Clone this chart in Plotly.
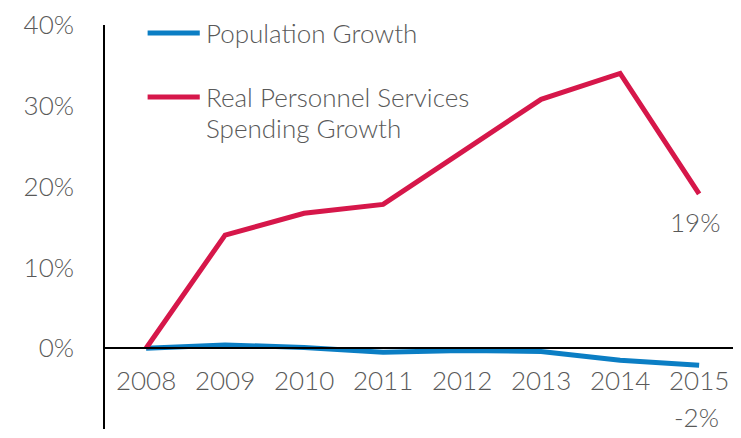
import plotly.graph_objects as go

years = [2008, 2009, 2010, 2011, 2012, 2013, 2014, 2015]
population_growth = [0.0, 0.4, 0.1, -0.5, -0.3, -0.4, -1.5, -2.1]
personnel_growth = [0.0, 14.0, 16.7, 17.8, 24.3, 30.8, 34.0, 19.1]
y_ticks = [-10, 0, 10, 20, 30, 40]
y_tick_labels = ["-10%", "0%", "10%", "20%", "30%", "40%"]
legend_lines = [["Population Growth"], ["Real Personnel Services", "Spending Growth"]]

BLUE = "#0B7EC4"
RED = "#D6174A"
GRAY = "#595959"
FONT = "Lato"
FS = 26
FW = 300

fig = go.Figure()
fig.add_trace(go.Scatter(x=years, y=population_growth, mode="lines",
                         line=dict(color=BLUE, width=5), showlegend=False))
fig.add_trace(go.Scatter(x=years, y=personnel_growth, mode="lines",
                         line=dict(color=RED, width=5), showlegend=False))

# manual legend
legend_y = [0.980, 0.822]
line_step = 0.077
legend_colors = [BLUE, RED]
for ly, col, lines in zip(legend_y, legend_colors, legend_lines):
    fig.add_shape(type="line", xref="paper", yref="paper",
                  x0=0.067, x1=0.149, y0=ly, y1=ly,
                  line=dict(color=col, width=5))
    for i, txt in enumerate(lines):
        fig.add_annotation(xref="paper", yref="paper", x=0.155, y=ly - i * line_step,
                           text=txt, showarrow=False, xanchor="left", yanchor="middle",
                           font=dict(family=FONT, size=FS, color=GRAY, weight=FW))

# end labels
fig.add_annotation(x=years[-1], y=personnel_growth[-1], text=f"{round(personnel_growth[-1])}%",
                   showarrow=False, yshift=-28, xshift=-4,
                   font=dict(family=FONT, size=FS, color=GRAY, weight=FW))
fig.add_annotation(x=years[-1], y=population_growth[-1], text=f"{round(population_growth[-1])}%",
                   showarrow=False, yshift=-52, xshift=-3,
                   font=dict(family=FONT, size=FS, color=GRAY, weight=FW))

fig.update_layout(
    width=733, height=430,
    margin=dict(l=97, r=0, t=17, b=9, autoexpand=False),
    plot_bgcolor="white", paper_bgcolor="white",
    font=dict(family=FONT, size=FS, color=GRAY, weight=FW),
    xaxis=dict(range=[2007.48, 2015.53], tickvals=years, ticktext=[str(y) for y in years],
               showgrid=False, zeroline=False, showline=True, linecolor="black", linewidth=1.5,
               anchor="free", position=0.2, ticks="", ticklabelstandoff=10, automargin=False,
               tickfont=dict(family=FONT, size=FS, color=GRAY, weight=FW)),
    yaxis=dict(range=[-10, 40], tickvals=y_ticks, ticktext=y_tick_labels,
               showgrid=False, zeroline=False, showline=True, linecolor="black", linewidth=1.5,
               ticks="", ticklabelstandoff=24, automargin=False,
               tickfont=dict(family=FONT, size=FS, color=GRAY, weight=FW)),
)

fig.write_html("out.html")
